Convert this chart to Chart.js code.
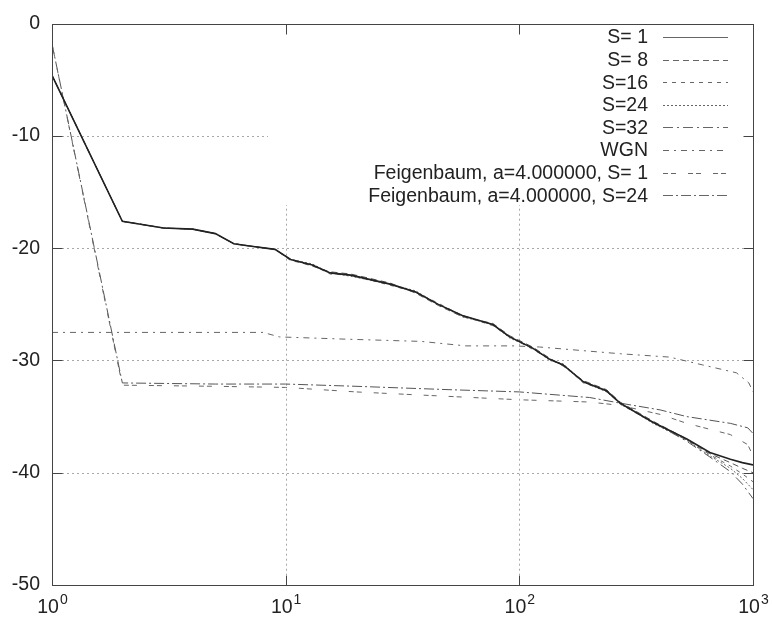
<!DOCTYPE html>
<html>
<head>
<meta charset="utf-8">
<script src="https://cdn.jsdelivr.net/npm/chart.js@4/dist/chart.umd.min.js"></script>
<style>
  html, body { margin: 0; padding: 0; background: #ffffff; }
  #wrap { width: 772px; height: 620px; }
</style>
</head>
<body>
<div id="wrap"><canvas id="c" width="772" height="620"></canvas></div>
<script>
// ---- data ----
const xMain = [1, 2, 3, 4, 5, 6, 7, 9, 10.5, 13, 15.5, 19, 28, 36, 45, 57, 77, 91, 114, 135, 154, 188, 236, 270, 373, 521, 654, 800, 900, 1000];
const s1   = [-4.6, -17.6, -18.2, -18.3, -18.7, -19.6, -19.8, -20.1, -21.0, -21.5, -22.2, -22.4, -23.2, -23.9, -25.0, -26.0, -26.8, -27.9, -28.9, -29.9, -30.4, -31.9, -32.7, -33.8, -35.5, -37.0, -38.2, -38.8, -39.1, -39.3];
const s8   = [-4.6, -17.6, -18.2, -18.3, -18.7, -19.6, -19.8, -20.1, -21.0, -21.6, -22.1, -22.3, -23.1, -24.0, -25.1, -26.1, -26.7, -27.8, -28.8, -29.8, -30.5, -31.8, -32.6, -33.7, -35.4, -37.0, -38.3, -39.1, -39.6, -40.0];
const s16  = [-4.6, -17.6, -18.2, -18.3, -18.7, -19.6, -19.8, -20.1, -21.1, -21.5, -22.3, -22.4, -23.3, -23.9, -24.9, -26.0, -26.9, -27.9, -29.0, -29.9, -30.4, -32.0, -32.7, -33.9, -35.5, -37.1, -38.4, -39.4, -40.1, -40.8];
const s24  = [-4.6, -17.6, -18.2, -18.3, -18.7, -19.6, -19.8, -20.1, -21.0, -21.4, -22.2, -22.5, -23.2, -23.8, -25.0, -26.1, -26.8, -28.0, -28.9, -30.0, -30.3, -31.9, -32.8, -33.8, -35.6, -37.1, -38.5, -39.6, -40.5, -41.5];
const s32  = [-4.6, -17.6, -18.2, -18.3, -18.7, -19.6, -19.8, -20.1, -21.0, -21.5, -22.2, -22.4, -23.2, -23.9, -25.0, -26.0, -26.8, -27.9, -28.9, -29.9, -30.4, -31.9, -32.7, -33.8, -35.5, -37.2, -38.6, -39.9, -41.0, -42.3];

const xWgn = [1, 8, 9.4, 18, 38, 59, 94, 122, 270, 440, 610, 850, 960, 1000];
const wgn  = [-27.5, -27.5, -27.9, -28.1, -28.3, -28.7, -28.7, -28.8, -29.4, -29.7, -30.4, -31.1, -32.0, -32.8];

const xFeig = [1, 2, 5, 10, 20, 50, 100, 200, 270, 400, 521, 800, 950, 1000];
const feig1  = [-1.8, -32.2, -32.3, -32.4, -32.8, -33.2, -33.5, -33.7, -34.0, -34.8, -35.6, -36.6, -37.5, -38.5];
const feig24 = [-1.8, -32.0, -32.1, -32.1, -32.3, -32.6, -32.8, -33.3, -33.8, -34.4, -35.0, -35.6, -36.0, -36.5];

const seriesLabels = ['S= 1', 'S= 8', 'S=16', 'S=24', 'S=32', 'WGN', 'Feigenbaum, a=4.000000, S= 1', 'Feigenbaum, a=4.000000, S=24'];
const xTickValues = [1, 10, 100, 1000];
const xTickBase = '10';
const xTickExponents = ['0', '1', '2', '3'];
const yTickValues = [0, -10, -20, -30, -40, -50];

// ---- build datasets ----
function pts(xs, ys) { return xs.map((x, i) => ({ x: x, y: ys[i] })); }
const styles = [
  { c: '#222222', d: [], w: 1.6 },
  { c: '#555555', d: [6, 4], w: 1 },
  { c: '#666666', d: [4, 5], w: 1 },
  { c: '#666666', d: [2, 2], w: 1 },
  { c: '#555555', d: [10, 4, 2, 4], w: 1 },
  { c: '#666666', d: [6, 5, 2, 5], w: 1 },
  { c: '#666666', d: [5, 3, 5, 12], w: 1 },
  { c: '#555555', d: [10, 3, 2, 3], w: 1 }
];
const dataArrays = [
  pts(xMain, s1), pts(xMain, s8), pts(xMain, s16), pts(xMain, s24), pts(xMain, s32),
  pts(xWgn, wgn), pts(xFeig, feig1), pts(xFeig, feig24)
];
const datasets = dataArrays.map((d, i) => ({
  label: seriesLabels[i],
  data: d,
  borderColor: styles[i].c,
  borderDash: styles[i].d,
  borderWidth: styles[i].w,
  pointRadius: 0,
  fill: false,
  tension: 0
}));

const FONT = 'Liberation Sans, Arial, Helvetica, sans-serif';
const keyBox = { left: 268, bottom: 205 };

const framePlugin = {
  id: 'frame',
  beforeDatasetsDraw(chart) {
    const { ctx, chartArea: a, scales } = chart;
    ctx.save();
    ctx.beginPath();
    ctx.rect(a.left, a.top, a.right - a.left, a.bottom - a.top);
    ctx.rect(keyBox.left, a.top, a.right - keyBox.left, keyBox.bottom - a.top);
    ctx.clip('evenodd');
    ctx.strokeStyle = '#a8a8a8';
    ctx.lineWidth = 1;
    ctx.setLineDash([2, 3]);
    const tl = 10;
    yTickValues.forEach(v => {
      if (v === 0 || v === -50) return;
      const y = Math.round(scales.y.getPixelForValue(v)) + 0.5;
      ctx.beginPath(); ctx.moveTo(a.left + tl, y); ctx.lineTo(a.right - tl, y); ctx.stroke();
    });
    xTickValues.forEach(v => {
      if (v === 1 || v === 1000) return;
      const x = Math.round(scales.x.getPixelForValue(v)) + 0.5;
      ctx.beginPath(); ctx.moveTo(x, a.top + tl); ctx.lineTo(x, a.bottom - tl); ctx.stroke();
    });
    ctx.restore();
  },
  afterDatasetsDraw(chart) {
    const { ctx, chartArea: a, scales } = chart;
    ctx.save();
    ctx.strokeStyle = '#444';
    ctx.lineWidth = 1;
    ctx.setLineDash([]);
    const L = Math.round(a.left) + 0.5, R = Math.round(a.right) + 0.5;
    const T = Math.round(a.top) + 0.5, B = Math.round(a.bottom) + 0.5;
    ctx.strokeRect(L, T, R - L, B - T);
    const tl = 10;
    yTickValues.forEach(v => {
      const y = Math.round(scales.y.getPixelForValue(v)) + 0.5;
      ctx.beginPath(); ctx.moveTo(L, y); ctx.lineTo(L + tl, y); ctx.stroke();
      ctx.beginPath(); ctx.moveTo(R, y); ctx.lineTo(R - tl, y); ctx.stroke();
    });
    xTickValues.forEach(v => {
      const x = Math.round(scales.x.getPixelForValue(v)) + 0.5;
      ctx.beginPath(); ctx.moveTo(x, B); ctx.lineTo(x, B - tl); ctx.stroke();
      ctx.beginPath(); ctx.moveTo(x, T); ctx.lineTo(x, T + tl); ctx.stroke();
    });
    ctx.restore();
  },
  afterDraw(chart) {
    const { ctx, chartArea: a, scales } = chart;
    ctx.save();
    // x tick labels: base with raised exponent
    ctx.fillStyle = '#222';
    ctx.textBaseline = 'alphabetic';
    ctx.textAlign = 'left';
    xTickValues.forEach((v, i) => {
      const x = scales.x.getPixelForValue(v);
      ctx.font = '19.5px ' + FONT;
      const wb = ctx.measureText(xTickBase).width;
      ctx.font = '14px ' + FONT;
      const we = ctx.measureText(xTickExponents[i]).width;
      const x0 = x - (wb + we) / 2;
      const base = a.bottom + 28;
      ctx.font = '19.5px ' + FONT;
      ctx.fillText(xTickBase, x0, base);
      ctx.font = '14px ' + FONT;
      ctx.fillText(xTickExponents[i], x0 + wb + 1, base - 9);
    });
    // key
    ctx.font = '19.5px ' + FONT;
    ctx.textAlign = 'right';
    ctx.textBaseline = 'middle';
    chart.data.datasets.forEach((ds, i) => {
      const y = 37 + i * 22.6;
      ctx.fillText(ds.label, 648, y + 1);
      ctx.strokeStyle = '#666';
      ctx.lineWidth = 1;
      ctx.setLineDash(ds.borderDash || []);
      ctx.beginPath();
      ctx.moveTo(663, Math.round(y) + 0.5);
      ctx.lineTo(728, Math.round(y) + 0.5);
      ctx.stroke();
    });
    ctx.restore();
  }
};

new Chart(document.getElementById('c'), {
  type: 'line',
  data: { datasets: datasets },
  plugins: [framePlugin],
  options: {
    responsive: false,
    animation: false,
    events: [],
    layout: { padding: { left: 0, top: 15, right: 19, bottom: 0 } },
    plugins: { legend: { display: false }, tooltip: { enabled: false } },
    scales: {
      x: {
        type: 'logarithmic',
        min: 1, max: 1000,
        afterBuildTicks(scale) { scale.ticks = xTickValues.map(v => ({ value: v })); },
        afterFit(scale) { scale.height = 35; },
        grid: { display: false, drawTicks: false },
        border: { display: false },
        ticks: { display: false }
      },
      y: {
        type: 'linear',
        min: -50, max: 0,
        afterBuildTicks(scale) { scale.ticks = yTickValues.map(v => ({ value: v })); },
        afterFit(scale) { scale.width = 52; },
        grid: { display: false, drawTicks: false },
        border: { display: false },
        ticks: {
          padding: 12, color: '#222', font: { family: FONT, size: 19.5 },
          callback: (v) => String(v)
        }
      }
    }
  }
});
</script>
</body>
</html>
